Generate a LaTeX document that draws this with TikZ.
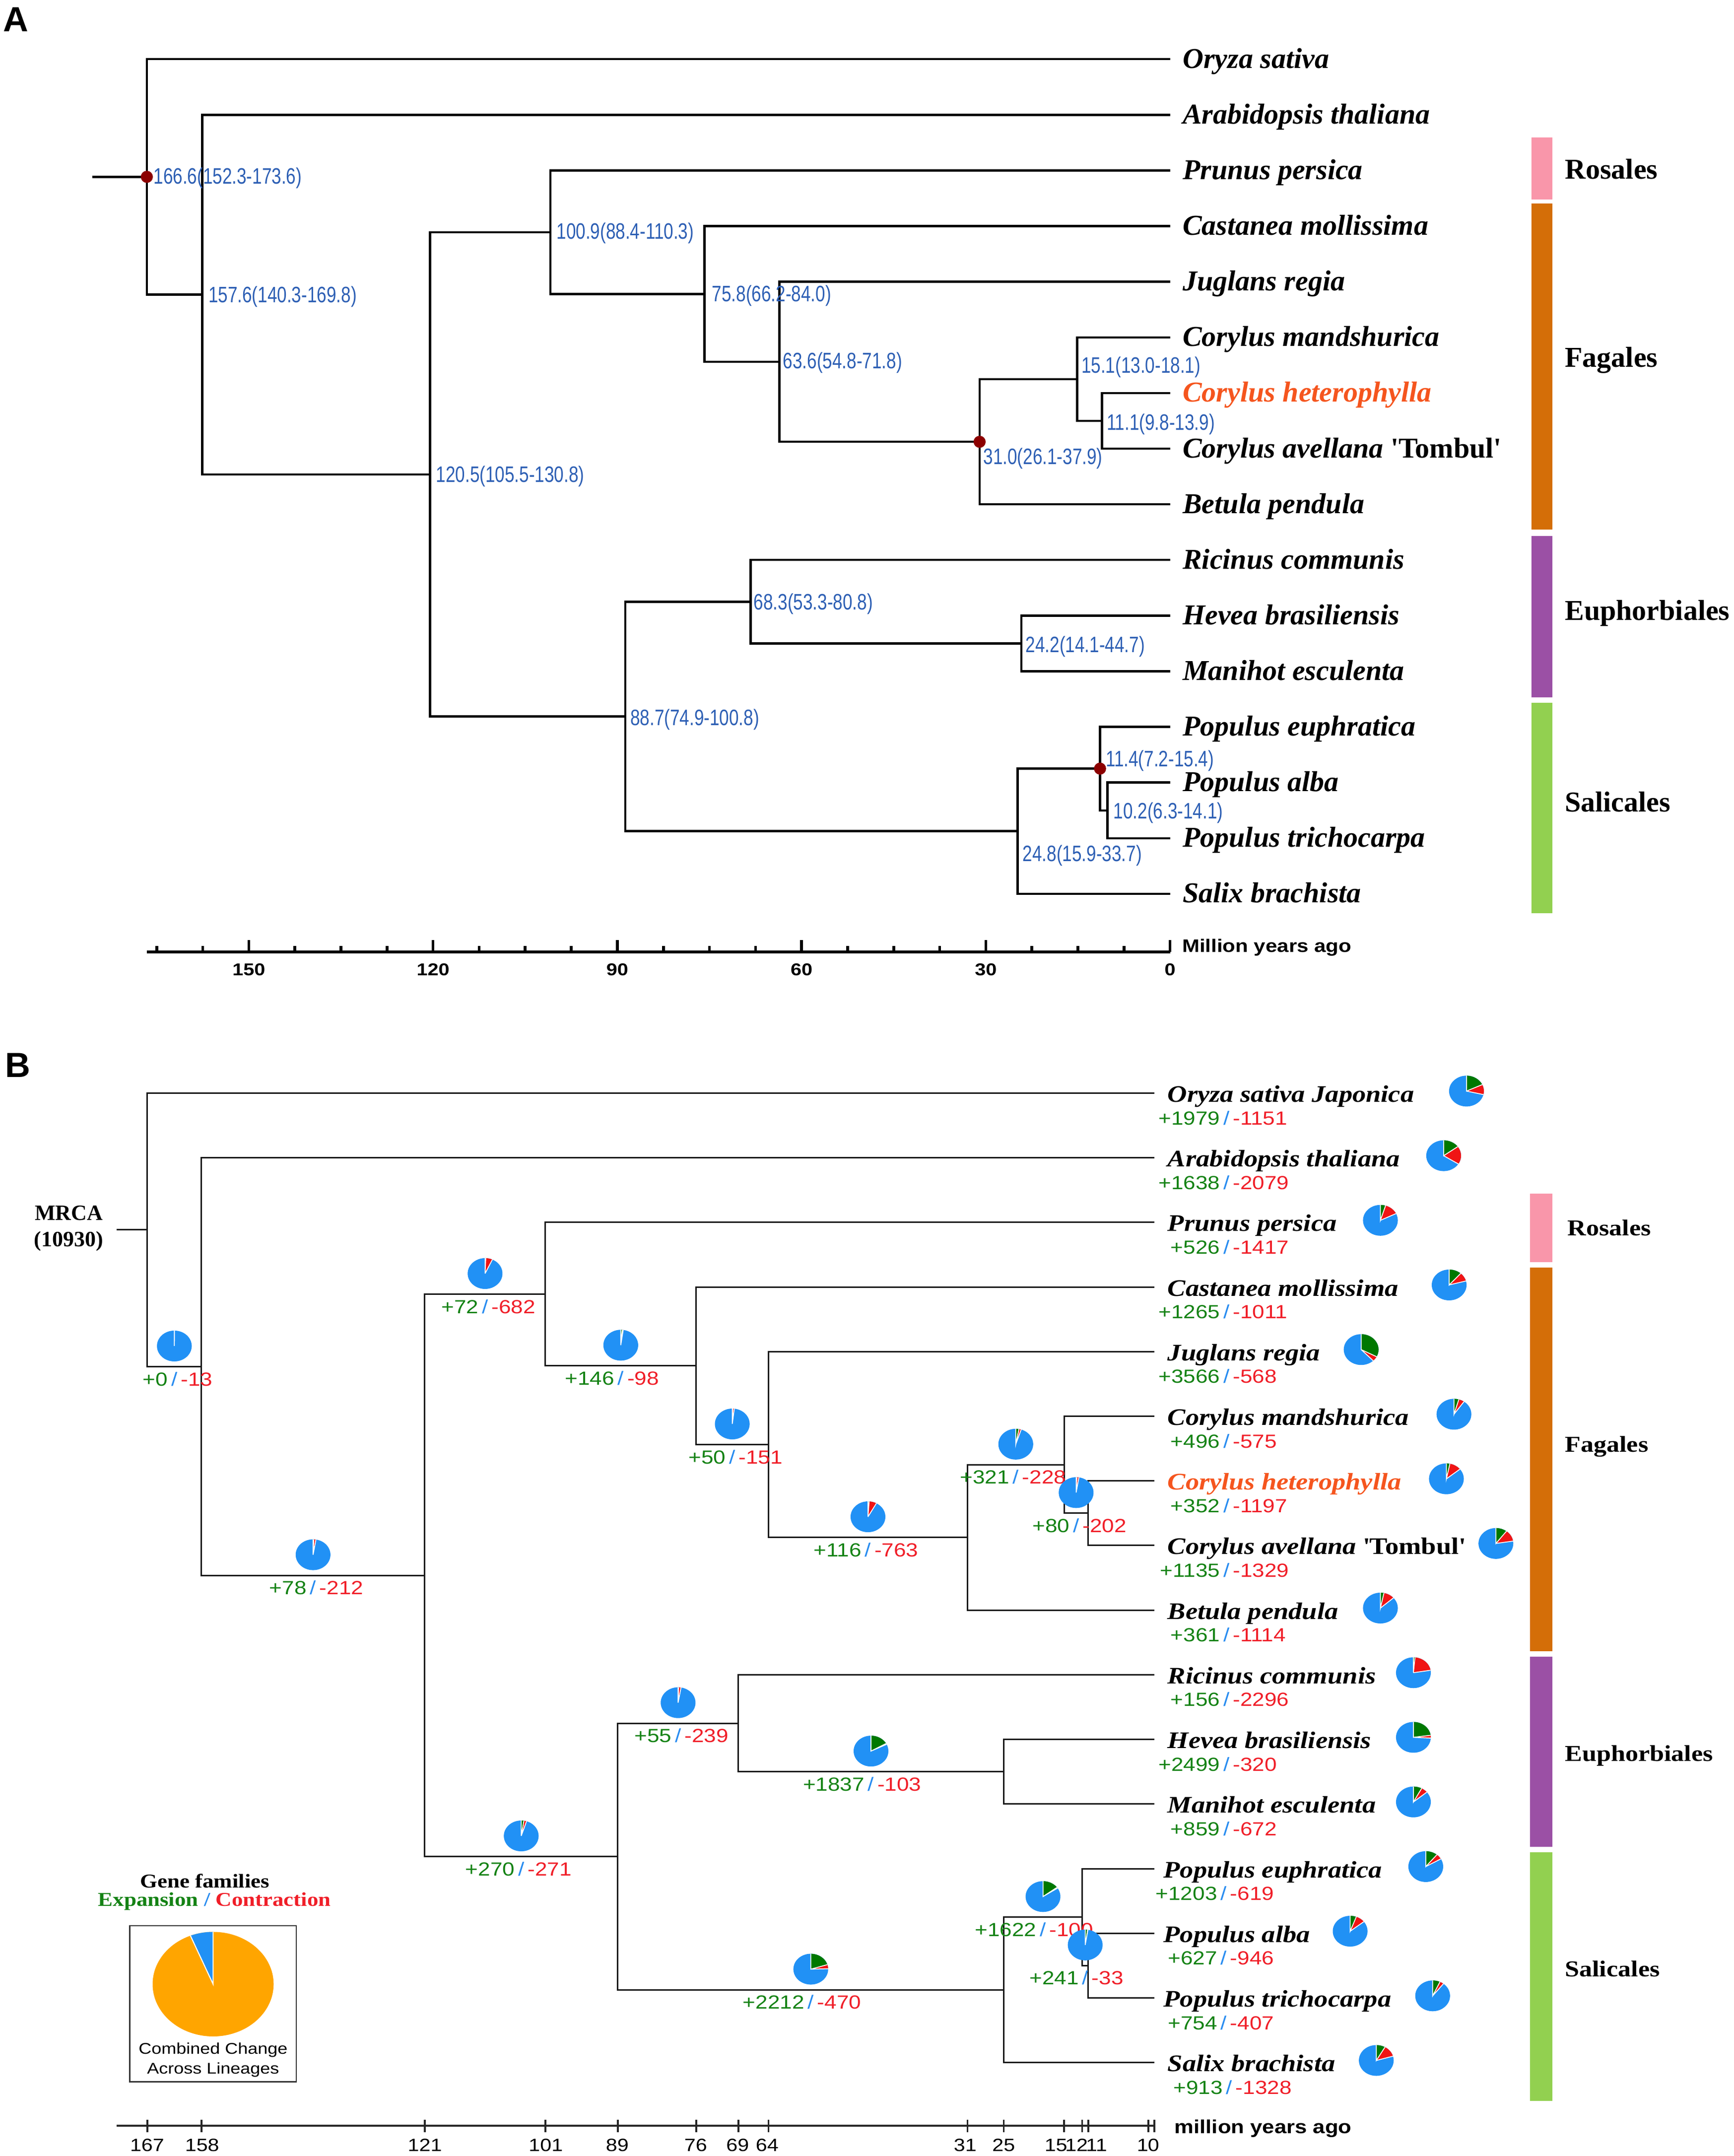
\documentclass[tikz,border=0pt]{standalone}
\usepackage{fontspec}
\setmainfont{Liberation Serif}
\setsansfont{Liberation Sans}
\newfontfamily\agefont[FakeStretch=0.78]{Liberation Sans}
\newfontfamily\widesans[FakeStretch=1.15]{Liberation Sans}
\newfontfamily\wideserif[FakeStretch=1.14]{Liberation Serif}

\definecolor{ageblue}{RGB}{45,95,180}
\definecolor{hetcol}{RGB}{245,85,30}
\definecolor{dotred}{RGB}{140,0,0}
\definecolor{rosales}{RGB}{249,150,170}
\definecolor{fagales}{RGB}{212,110,8}
\definecolor{euphorb}{RGB}{155,80,165}
\definecolor{salic}{RGB}{146,208,80}
\definecolor{pieblue}{RGB}{33,145,245}
\definecolor{piegreen}{RGB}{0,120,0}
\definecolor{piered}{RGB}{240,20,20}
\definecolor{gaingreen}{RGB}{20,130,20}
\definecolor{lossred}{RGB}{240,30,40}
\definecolor{slashblue}{RGB}{40,140,240}
\definecolor{legorange}{RGB}{255,165,0}

% pie of gene family change: position, expansion, contraction (out of 10930)
\newcommand{\genepie}[3]{%
  \begin{scope}[shift={#1},xscale=1.13]
    \fill[pieblue] (0,0) circle (11.2);
    \fill[piegreen] (0,0) -- (90:11.2) arc[start angle=90,end angle={90-0.032937*#2},radius=11.2] -- cycle;
    \fill[piered] (0,0) -- ({90-0.032937*#2}:11.2) arc[start angle={90-0.032937*#2},end angle={90-0.032937*(#2+#3)},radius=11.2] -- cycle;
    \draw[white,line width=0.5pt] (90:11.2) -- (0,0) -- ({90-0.032937*#2}:11.2) (0,0) -- ({90-0.032937*(#2+#3)}:11.2);
  \end{scope}}
\newcommand{\gainloss}[2]{\llap{\textcolor{gaingreen}{+#1}\hspace{2pt}}\textcolor{slashblue}{/}\rlap{\hspace{2pt}\textcolor{lossred}{-#2}}}

\begin{document}
\begin{tikzpicture}[x=0.0277cm,y=0.0277cm]
\tikzstyle{every node}+=[inner sep=0pt]
\tikzstyle{treeA}=[black,line width=1.3pt]
\tikzstyle{treeB}=[black!90,line width=0.85pt]
\tikzstyle{axisA}=[black,line width=1.6pt]
\tikzstyle{axisB}=[black!85,line width=1.1pt]
\tikzstyle{spA}=[anchor=base west,font=\fontsize{16.5}{19}\selectfont\bfseries\itshape]
\tikzstyle{spB}=[anchor=base west,font=\wideserif\fontsize{13.6}{16}\selectfont\bfseries\itshape]
\tikzstyle{agelab}=[anchor=west,text=ageblue,font=\agefont\fontsize{12.8}{14}\selectfont]
\tikzstyle{cnt}=[font=\widesans\fontsize{10.9}{12}\selectfont]
\tikzstyle{ordA}=[anchor=west,font=\fontsize{16.5}{19}\selectfont\bfseries]
\tikzstyle{ordB}=[anchor=west,font=\wideserif\fontsize{13}{15}\selectfont\bfseries]
\tikzstyle{axlabA}=[font=\widesans\fontsize{9.8}{11}\selectfont\bfseries]
\tikzstyle{axlabB}=[font=\widesans\fontsize{10.2}{11}\selectfont]
\tikzstyle{mya}=[anchor=west,font=\widesans\fontsize{10.4}{12}\selectfont\bfseries]
\tikzstyle{legtxt}=[font=\widesans\fontsize{8.9}{10}\selectfont]
\tikzstyle{legtitle}=[font=\wideserif\fontsize{11.2}{13}\selectfont\bfseries]
\tikzstyle{panel}=[anchor=base west,font=\sffamily\fontsize{20}{24}\selectfont\bfseries]

\useasboundingbox (0,0) rectangle (1261,-1568);

%%%%%%%%%% panel A: divergence times
\node[panel] (panelA) at (2,-23) {A};

% leaves
\coordinate (OsatA) at (851,-43);
\coordinate (AthaA) at (851,-83.5);
\coordinate (PperA) at (851,-124);
\coordinate (CmolA) at (851,-164.4);
\coordinate (JregA) at (851,-204.9);
\coordinate (CmanA) at (851,-245.4);
\coordinate (ChetA) at (851,-285.8);
\coordinate (CaveA) at (851,-326.3);
\coordinate (BpenA) at (851,-366.8);
\coordinate (RcomA) at (851,-407.2);
\coordinate (HbraA) at (851,-447.7);
\coordinate (MescA) at (851,-488.2);
\coordinate (PeupA) at (851,-528.6);
\coordinate (PalbA) at (851,-569.1);
\coordinate (PtriA) at (851,-609.6);
\coordinate (SbraA) at (851,-650);

% inner nodes
\coordinate (rootA) at (67,-128.6);
\coordinate (a1666) at (106.8,-128.6);
\coordinate (a1576) at (147.0,-214.2);
\coordinate (a1205) at (312.7,-345.0);
\coordinate (a1009) at (400.3,-168.9);
\coordinate (a758) at (512.4,-213.8);
\coordinate (a636) at (566.9,-263.1);
\coordinate (a310) at (712.5,-321.3);
\coordinate (a151) at (783.5,-275.7);
\coordinate (a111) at (801.4,-306.1);
\coordinate (a887) at (454.8,-521.1);
\coordinate (a683) at (545.9,-437.6);
\coordinate (a242) at (742.9,-468.0);
\coordinate (a248) at (740.2,-604.5);
\coordinate (a114) at (800.1,-559.0);
\coordinate (a102) at (805.4,-589.4);

\draw [treeA] (rootA) -- (a1666);
\draw [treeA] (a1666) |- (OsatA);
\draw [treeA] (a1666) |- (a1576);
\draw [treeA] (a1576) |- (AthaA);
\draw [treeA] (a1576) |- (a1205);
\draw [treeA] (a1205) |- (a1009);
\draw [treeA] (a1205) |- (a887);
\draw [treeA] (a1009) |- (PperA);
\draw [treeA] (a1009) |- (a758);
\draw [treeA] (a758) |- (CmolA);
\draw [treeA] (a758) |- (a636);
\draw [treeA] (a636) |- (JregA);
\draw [treeA] (a636) |- (a310);
\draw [treeA] (a310) |- (a151);
\draw [treeA] (a310) |- (BpenA);
\draw [treeA] (a151) |- (CmanA);
\draw [treeA] (a151) |- (a111);
\draw [treeA] (a111) |- (ChetA);
\draw [treeA] (a111) |- (CaveA);
\draw [treeA] (a887) |- (a683);
\draw [treeA] (a887) |- (a248);
\draw [treeA] (a683) |- (RcomA);
\draw [treeA] (a683) |- (a242);
\draw [treeA] (a242) |- (HbraA);
\draw [treeA] (a242) |- (MescA);
\draw [treeA] (a248) |- (a114);
\draw [treeA] (a248) |- (SbraA);
\draw [treeA] (a114) |- (PeupA);
\draw [treeA] (a114) |- (a102);
\draw [treeA] (a102) |- (PalbA);
\draw [treeA] (a102) |- (PtriA);

% calibration points
\fill [dotred] (a1666) circle (4.4);
\fill [dotred] (a310) circle (4.4);
\fill [dotred] (a114) circle (4.4);

% ages
\node[agelab] (t1666) at (111.5,-129.4) {166.6(152.3-173.6)};
\node[agelab] (t1576) at (151.4,-215.7) {157.6(140.3-169.8)};
\node[agelab] (t1205) at (317,-346.5) {120.5(105.5-130.8)};
\node[agelab] (t1009) at (404.6,-169.7) {100.9(88.4-110.3)};
\node[agelab] (t758) at (517.7,-215.2) {75.8(66.2-84.0)};
\node[agelab] (t636) at (569.3,-263.9) {63.6(54.8-71.8)};
\node[agelab] (t310) at (715,-333.3) {31.0(26.1-37.9)};
\node[agelab] (t151) at (786.3,-267) {15.1(13.0-18.1)};
\node[agelab] (t111) at (804.7,-308.5) {11.1(9.8-13.9)};
\node[agelab] (t683) at (548,-439.3) {68.3(53.3-80.8)};
\node[agelab] (t242) at (745.8,-470.4) {24.2(14.1-44.7)};
\node[agelab] (t887) at (458.3,-523.3) {88.7(74.9-100.8)};
\node[agelab] (t114) at (804,-553.3) {11.4(7.2-15.4)};
\node[agelab] (t102) at (809.7,-591.3) {10.2(6.3-14.1)};
\node[agelab] (t248) at (743.6,-622.4) {24.8(15.9-33.7)};

% species
\node[spA] (OsatAt) at (860,-49.5) {Oryza sativa};
\node[spA] (AthaAt) at (860,-90) {Arabidopsis thaliana};
\node[spA] (PperAt) at (860,-130.5) {Prunus persica};
\node[spA] (CmolAt) at (860,-170.9) {Castanea mollissima};
\node[spA] (JregAt) at (860,-211.4) {Juglans regia};
\node[spA] (CmanAt) at (860,-251.9) {Corylus mandshurica};
\node[spA,text=hetcol] (ChetAt) at (860,-292.3) {Corylus heterophylla};
\node[spA] (CaveAt) at (860,-332.8) {Corylus avellana \textup{\textquotesingle Tombul\textquotesingle}};
\node[spA] (BpenAt) at (860,-373.3) {Betula pendula};
\node[spA] (RcomAt) at (860,-413.7) {Ricinus communis};
\node[spA] (HbraAt) at (860,-454.2) {Hevea brasiliensis};
\node[spA] (MescAt) at (860,-494.7) {Manihot esculenta};
\node[spA] (PeupAt) at (860,-535.1) {Populus euphratica};
\node[spA] (PalbAt) at (860,-575.6) {Populus alba};
\node[spA] (PtriAt) at (860,-616.1) {Populus trichocarpa};
\node[spA] (SbraAt) at (860,-656.5) {Salix brachista};

% orders
\fill [rosales] (1114,-100) rectangle (1129,-145);
\fill [fagales] (1114,-148) rectangle (1129,-385);
\fill [euphorb] (1114,-390) rectangle (1129,-507);
\fill [salic] (1114,-511) rectangle (1129,-664);
\node[ordA] (rosA) at (1138,-123) {Rosales};
\node[ordA] (fagA) at (1138,-262) {Fagales};
\node[ordA] (eupA) at (1138,-446) {Euphorbiales};
\node[ordA] (salA) at (1138,-583) {Salicales};

% time axis
\draw [axisA] (107,-692.4) -- (851,-692.4);
\foreach \k in {0,...,22}
  \draw [axisA] ({851-33.5*\k},-692.4) -- ++(0,4.4);
\foreach \k in {0,4,...,20}
  \draw [axisA] ({851-33.5*\k},-692.4) -- ++(0,8.6);
\foreach \a in {0,30,...,150}
  \node[axlabA] (tickA\a) at ({851-4.467*\a},-705) {\a};
\node[mya] (myaA) at (859.6,-689) {Million years ago};

%%%%%%%%%% panel B: gene family expansion / contraction
\node[panel] (panelB) at (3.6,-783.6) {B};

% leaves
\coordinate (OsatB) at (839.7,-795);
\coordinate (AthaB) at (839.7,-842);
\coordinate (PperB) at (839.7,-889);
\coordinate (CmolB) at (839.7,-936);
\coordinate (JregB) at (839.7,-983);
\coordinate (CmanB) at (839.7,-1030);
\coordinate (ChetB) at (839.7,-1077);
\coordinate (CaveB) at (839.7,-1124);
\coordinate (BpenB) at (839.7,-1171);
\coordinate (RcomB) at (839.7,-1218);
\coordinate (HbraB) at (839.7,-1265);
\coordinate (MescB) at (839.7,-1312);
\coordinate (PeupB) at (839.7,-1359);
\coordinate (PalbB) at (839.7,-1406);
\coordinate (PtriB) at (839.7,-1453);
\coordinate (SbraB) at (839.7,-1500);

% inner nodes
\coordinate (rootB) at (85,-894.4);
\coordinate (b167) at (107.1,-894.4);
\coordinate (b158) at (146.5,-993.9);
\coordinate (b121) at (308.9,-1145.7);
\coordinate (b101) at (396.6,-941.2);
\coordinate (b76) at (506.3,-993.3);
\coordinate (b64) at (558.9,-1050.6);
\coordinate (b31) at (703.7,-1118.1);
\coordinate (b15) at (773.9,-1065.3);
\coordinate (b11c) at (791.4,-1100.5);
\coordinate (b89) at (449.3,-1350.2);
\coordinate (b69) at (537.0,-1253.3);
\coordinate (b25e) at (730.0,-1288.5);
\coordinate (b25s) at (730.0,-1447.1);
\coordinate (b12) at (787.1,-1394.3);
\coordinate (b11p) at (791.4,-1429.5);

\node[font=\fontsize{12.5}{15}\selectfont\bfseries,align=center] (mrca) at (50,-893.5) {MRCA\\(10930)};

\draw [treeB] (rootB) -- (b167);
\draw [treeB] (b167) |- (OsatB);
\draw [treeB] (b167) |- (b158);
\draw [treeB] (b158) |- (AthaB);
\draw [treeB] (b158) |- (b121);
\draw [treeB] (b121) |- (b101);
\draw [treeB] (b121) |- (b89);
\draw [treeB] (b101) |- (PperB);
\draw [treeB] (b101) |- (b76);
\draw [treeB] (b76) |- (CmolB);
\draw [treeB] (b76) |- (b64);
\draw [treeB] (b64) |- (JregB);
\draw [treeB] (b64) |- (b31);
\draw [treeB] (b31) |- (b15);
\draw [treeB] (b31) |- (BpenB);
\draw [treeB] (b15) |- (CmanB);
\draw [treeB] (b15) |- (b11c);
\draw [treeB] (b11c) |- (ChetB);
\draw [treeB] (b11c) |- (CaveB);
\draw [treeB] (b89) |- (b69);
\draw [treeB] (b89) |- (b25s);
\draw [treeB] (b69) |- (RcomB);
\draw [treeB] (b69) |- (b25e);
\draw [treeB] (b25e) |- (HbraB);
\draw [treeB] (b25e) |- (MescB);
\draw [treeB] (b25s) |- (b12);
\draw [treeB] (b25s) |- (SbraB);
\draw [treeB] (b12) |- (PeupB);
\draw [treeB] (b12) |- (b11p);
\draw [treeB] (b11p) |- (PalbB);
\draw [treeB] (b11p) |- (PtriB);

% changes on inner branches
\genepie{(126.8,-978.9)}{0}{13}
\node[cnt] (gl158) at (126.8,-1002.9) {\gainloss{0}{13}};
\genepie{(227.7,-1130.7)}{78}{212}
\node[cnt] (gl121) at (227.7,-1154.7) {\gainloss{78}{212}};
\genepie{(352.8,-926.2)}{72}{682}
\node[cnt] (gl101) at (352.8,-950.2) {\gainloss{72}{682}};
\genepie{(451.5,-978.3)}{146}{98}
\node[cnt] (gl76) at (451.5,-1002.3) {\gainloss{146}{98}};
\genepie{(532.6,-1035.6)}{50}{151}
\node[cnt] (gl64) at (532.6,-1059.6) {\gainloss{50}{151}};
\genepie{(631.3,-1103.1)}{116}{763}
\node[cnt] (gl31) at (631.3,-1127.1) {\gainloss{116}{763}};
\genepie{(738.8,-1050.3)}{321}{228}
\node[cnt] (gl15) at (738.8,-1074.3) {\gainloss{321}{228}};
\genepie{(782.7,-1085.5)}{80}{202}
\node[cnt] (gl11c) at (782.7,-1109.5) {\gainloss{80}{202}};
\genepie{(379.1,-1335.2)}{270}{271}
\node[cnt] (gl89) at (379.1,-1359.2) {\gainloss{270}{271}};
\genepie{(493.2,-1238.3)}{55}{239}
\node[cnt] (gl69) at (493.2,-1262.3) {\gainloss{55}{239}};
\genepie{(633.5,-1273.5)}{1837}{103}
\node[cnt] (gl25e) at (633.5,-1297.5) {\gainloss{1837}{103}};
\genepie{(589.7,-1432.1)}{2212}{470}
\node[cnt] (gl25s) at (589.7,-1456.1) {\gainloss{2212}{470}};
\genepie{(758.6,-1379.3)}{1622}{100}
\node[cnt] (gl12) at (758.6,-1403.3) {\gainloss{1622}{100}};
\genepie{(789.3,-1414.5)}{241}{33}
\node[cnt] (gl11p) at (789.3,-1438.5) {\gainloss{241}{33}};

% species with their changes
\node[spB] (OsatBt) at (849,-801.5) {Oryza sativa Japonica};
\node[cnt] (OsatBn) at (892,-813) {\gainloss{1979}{1151}};
\genepie{(1066.6,-793.5)}{1979}{1151}
\node[spB] (AthaBt) at (849,-848.5) {Arabidopsis thaliana};
\node[cnt] (AthaBn) at (892,-860) {\gainloss{1638}{2079}};
\genepie{(1050,-840.5)}{1638}{2079}
\node[spB] (PperBt) at (849,-895.5) {Prunus persica};
\node[cnt] (PperBn) at (892,-907) {\gainloss{526}{1417}};
\genepie{(1004,-887.5)}{526}{1417}
\node[spB] (CmolBt) at (849,-942.5) {Castanea mollissima};
\node[cnt] (CmolBn) at (892,-954) {\gainloss{1265}{1011}};
\genepie{(1054,-934.5)}{1265}{1011}
\node[spB] (JregBt) at (849,-989.5) {Juglans regia};
\node[cnt] (JregBn) at (892,-1001) {\gainloss{3566}{568}};
\genepie{(990,-981.5)}{3566}{568}
\node[spB] (CmanBt) at (849,-1036.5) {Corylus mandshurica};
\node[cnt] (CmanBn) at (892,-1048) {\gainloss{496}{575}};
\genepie{(1057.5,-1028.5)}{496}{575}
\node[spB,text=hetcol] (ChetBt) at (849,-1083.5) {Corylus heterophylla};
\node[cnt] (ChetBn) at (892,-1095) {\gainloss{352}{1197}};
\genepie{(1052,-1075.5)}{352}{1197}
\node[spB] (CaveBt) at (849,-1130.5) {Corylus avellana \textup{\textquotesingle Tombul\textquotesingle}};
\node[cnt] (CaveBn) at (892,-1142) {\gainloss{1135}{1329}};
\genepie{(1088,-1122.5)}{1135}{1329}
\node[spB] (BpenBt) at (849,-1177.5) {Betula pendula};
\node[cnt] (BpenBn) at (892,-1189) {\gainloss{361}{1114}};
\genepie{(1004,-1169.5)}{361}{1114}
\node[spB] (RcomBt) at (849,-1224.5) {Ricinus communis};
\node[cnt] (RcomBn) at (892,-1236) {\gainloss{156}{2296}};
\genepie{(1028,-1216.5)}{156}{2296}
\node[spB] (HbraBt) at (849,-1271.5) {Hevea brasiliensis};
\node[cnt] (HbraBn) at (892,-1283) {\gainloss{2499}{320}};
\genepie{(1028,-1263.5)}{2499}{320}
\node[spB] (MescBt) at (849,-1318.5) {Manihot esculenta};
\node[cnt] (MescBn) at (892,-1330) {\gainloss{859}{672}};
\genepie{(1028,-1310.5)}{859}{672}
\node[spB] (PeupBt) at (846,-1365.5) {Populus euphratica};
\node[cnt] (PeupBn) at (890,-1377) {\gainloss{1203}{619}};
\genepie{(1037,-1357.5)}{1203}{619}
\node[spB] (PalbBt) at (846,-1412.5) {Populus alba};
\node[cnt] (PalbBn) at (890,-1424) {\gainloss{627}{946}};
\genepie{(982,-1404.5)}{627}{946}
\node[spB] (PtriBt) at (846,-1459.5) {Populus trichocarpa};
\node[cnt] (PtriBn) at (890,-1471) {\gainloss{754}{407}};
\genepie{(1042,-1451.5)}{754}{407}
\node[spB] (SbraBt) at (849,-1506.5) {Salix brachista};
\node[cnt] (SbraBn) at (894,-1518) {\gainloss{913}{1328}};
\genepie{(1001,-1498.5)}{913}{1328}

% orders
\fill [rosales] (1113,-868) rectangle (1129,-918);
\fill [fagales] (1113,-922) rectangle (1129,-1201);
\fill [euphorb] (1113,-1205) rectangle (1129,-1343);
\fill [salic] (1113,-1347) rectangle (1129,-1528);
\node[ordB] (rosB) at (1140,-893) {Rosales};
\node[ordB] (fagB) at (1138,-1052) {Fagales};
\node[ordB] (eupB) at (1138,-1277) {Euphorbiales};
\node[ordB] (salB) at (1138,-1432) {Salicales};

% legend
\node[legtitle] (genefam) at (149,-1368) {Gene families};
\node[legtitle] (expcon) at (156,-1383) {\textcolor{gaingreen}{Expansion} \textcolor{slashblue}{/} \textcolor{lossred}{Contraction}};
\draw [black!80,line width=0.8pt] (94.5,-1400.5) rectangle (215.5,-1514);
\begin{scope}[shift={(155,-1443)},xscale=1.158]
  \fill [legorange] (0,0) circle (38);
  \fill [pieblue] (0,0) -- (90:38) arc[start angle=90,end angle=112,radius=38] -- cycle;
  \draw [white,line width=0.6pt] (90:38) -- (0,0) -- (112:38);
\end{scope}
\node[legtxt] (comb1) at (155,-1491) {Combined Change};
\node[legtxt] (comb2) at (155,-1505.5) {Across Lineages};

% time axis
\draw [axisB] (85,-1546) -- (839.7,-1546);
\foreach \a in {167,158,121,101,89,76,69,64,31,25,15,12,11,1,0}
  \draw [axisB] ({839.7-4.387*\a},-1541.5) -- ++(0,-9);
\foreach \a/\x in {167/107,158/147,121/309,101/397,89/449,76/506,69/536.5,64/558,31/702,25/730,15/768,12/783,11/797.5,1/831,0/839}
  \node[axlabB] (tickB\a) at (\x,-1560) {\a};
\node[mya,font=\widesans\fontsize{10.8}{12}\selectfont\bfseries] (myaB) at (854,-1548) {million years ago};
\end{tikzpicture}
\end{document}
